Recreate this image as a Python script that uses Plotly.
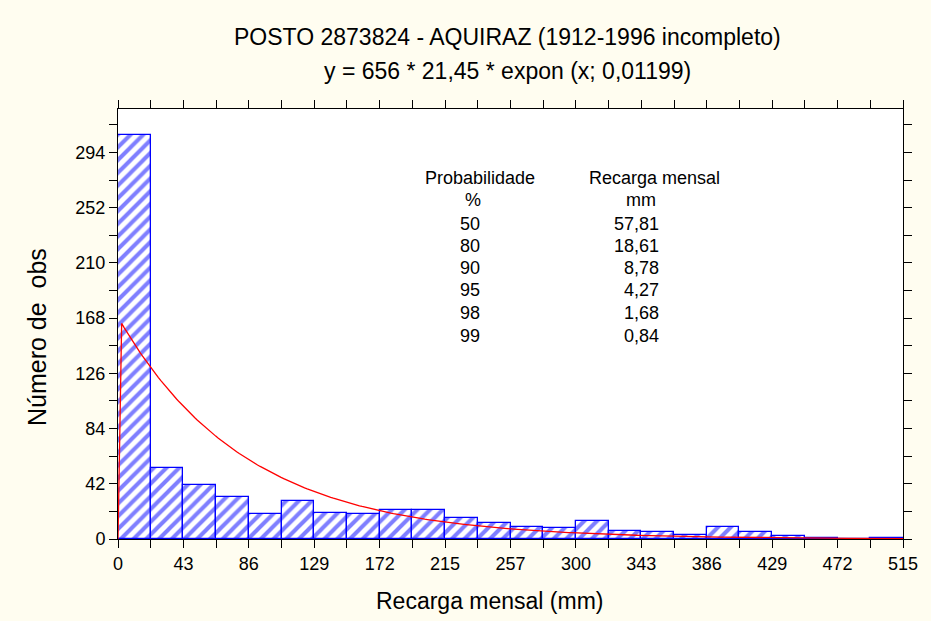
import numpy as np
import plotly.graph_objects as go

# ---- data ----
BIN_WIDTH = 21.45
N_OBS = 656
LAMBDA = 0.01199
counts = [307, 54, 41, 32, 19, 29, 20, 19, 22, 22, 16, 12,
          9, 8, 14, 6, 5, 3, 9, 5, 2, 1, 0, 1]
x_tick_labels = ["0", "43", "86", "129", "172", "215", "257",
                 "300", "343", "386", "429", "472", "515"]
y_tick_labels = ["0", "42", "84", "126", "168", "210", "252", "294"]
prob_pct = ["50", "80", "90", "95", "98", "99"]
recarga_mm = ["57,81", "18,61", "8,78", "4,27", "1,68", "0,84"]

title_1 = "POSTO 2873824 - AQUIRAZ (1912-1996 incompleto)"
title_2 = "y = 656 * 21,45 * expon (x; 0,01199)"

# ---- derived ----
n_bins = len(counts)
centers = [BIN_WIDTH * (i + 0.5) for i in range(n_bins)]
x_max = BIN_WIDTH * n_bins

# fitted exponential curve as stated in the chart subtitle
xc = np.concatenate([[0.0], np.linspace(2.4, x_max, 300)])
yc = N_OBS * BIN_WIDTH * LAMBDA * np.exp(-LAMBDA * xc)
yc[0] = 0.0

FONT = "Liberation Sans, Arial, sans-serif"
BLUE = "#0000FF"
BG = "#FFFDF0"

fig = go.Figure()
fig.add_trace(go.Bar(
    x=centers, y=counts, width=[BIN_WIDTH] * n_bins,
    marker=dict(color="white",
                line=dict(color=BLUE, width=1.3),
                pattern=dict(shape="/", fgcolor=BLUE, bgcolor="white",
                             size=9, solidity=0.45)),
    showlegend=False, hoverinfo="x+y",
))
fig.add_trace(go.Scatter(
    x=xc, y=yc, mode="lines", line=dict(color="#FF0000", width=1.3),
    showlegend=False, hoverinfo="skip",
))

x_ticks = [BIN_WIDTH * i for i in range(n_bins + 1)]
x_text = [x_tick_labels[i // 2] if i % 2 == 0 else "" for i in range(n_bins + 1)]
y_ticks = list(range(0, 316, 21))
y_text = [y_tick_labels[i // 2] if i % 2 == 0 else "" for i in range(len(y_ticks))]

PL, PR, PT, PB = 118, 28, 109, 82
W, H = 931, 621

fig.update_layout(
    width=W, height=H,
    paper_bgcolor=BG, plot_bgcolor="white",
    margin=dict(l=PL, r=PR, t=PT, b=PB),
    font=dict(family=FONT, size=18, color="black"),
    bargap=0,
    xaxis=dict(range=[0, x_max], tickmode="array", tickvals=x_ticks, ticktext=x_text,
               ticks="outside", ticklen=8, tickwidth=1, tickcolor="black",
               showline=True, linecolor="black", linewidth=1, mirror="ticks",
               showgrid=False, zeroline=False, tickfont=dict(size=18)),
    yaxis=dict(range=[0, 327], tickmode="array", tickvals=y_ticks, ticktext=y_text,
               ticks="outside", ticklen=8, tickwidth=1, tickcolor="black",
               showline=True, linecolor="black", linewidth=1, mirror="ticks",
               showgrid=False, zeroline=False, tickfont=dict(size=18)),
)

def px(xp, yp):
    return (xp - PL) / (W - PR - PL), (H - PB - yp) / (H - PB - PT)

annotations = []
def add_text(t, xp, yp, size, xanchor="center", angle=0):
    x, y = px(xp, yp)
    annotations.append(dict(text=t, x=x, y=y, xref="paper", yref="paper",
                            showarrow=False, xanchor=xanchor, yanchor="middle",
                            textangle=angle,
                            font=dict(size=size, family=FONT, color="black")))

add_text(title_1, 507, 37, 23)
add_text(title_2, 507, 71, 23)
add_text("Recarga mensal (mm)", 490, 601, 23)
add_text("Número de&nbsp; obs", 37, 337, 25, angle=-90)

add_text("Probabilidade", 480, 178, 18)
add_text("Recarga mensal", 654, 178, 18)
add_text("%", 473, 200, 18)
add_text("mm", 641, 200, 18)
row_y = [224, 246, 268, 290, 313, 336]
for p, r, yy in zip(prob_pct, recarga_mm, row_y):
    add_text(p, 470, yy, 18)
    add_text(r, 661, yy, 18, xanchor="right")

fig.update_layout(annotations=annotations)
fig.write_html(
    "out.html",
    config={"displayModeBar": False},
    post_script="document.body.style.margin='0';document.body.style.background='%s';" % BG,
)
